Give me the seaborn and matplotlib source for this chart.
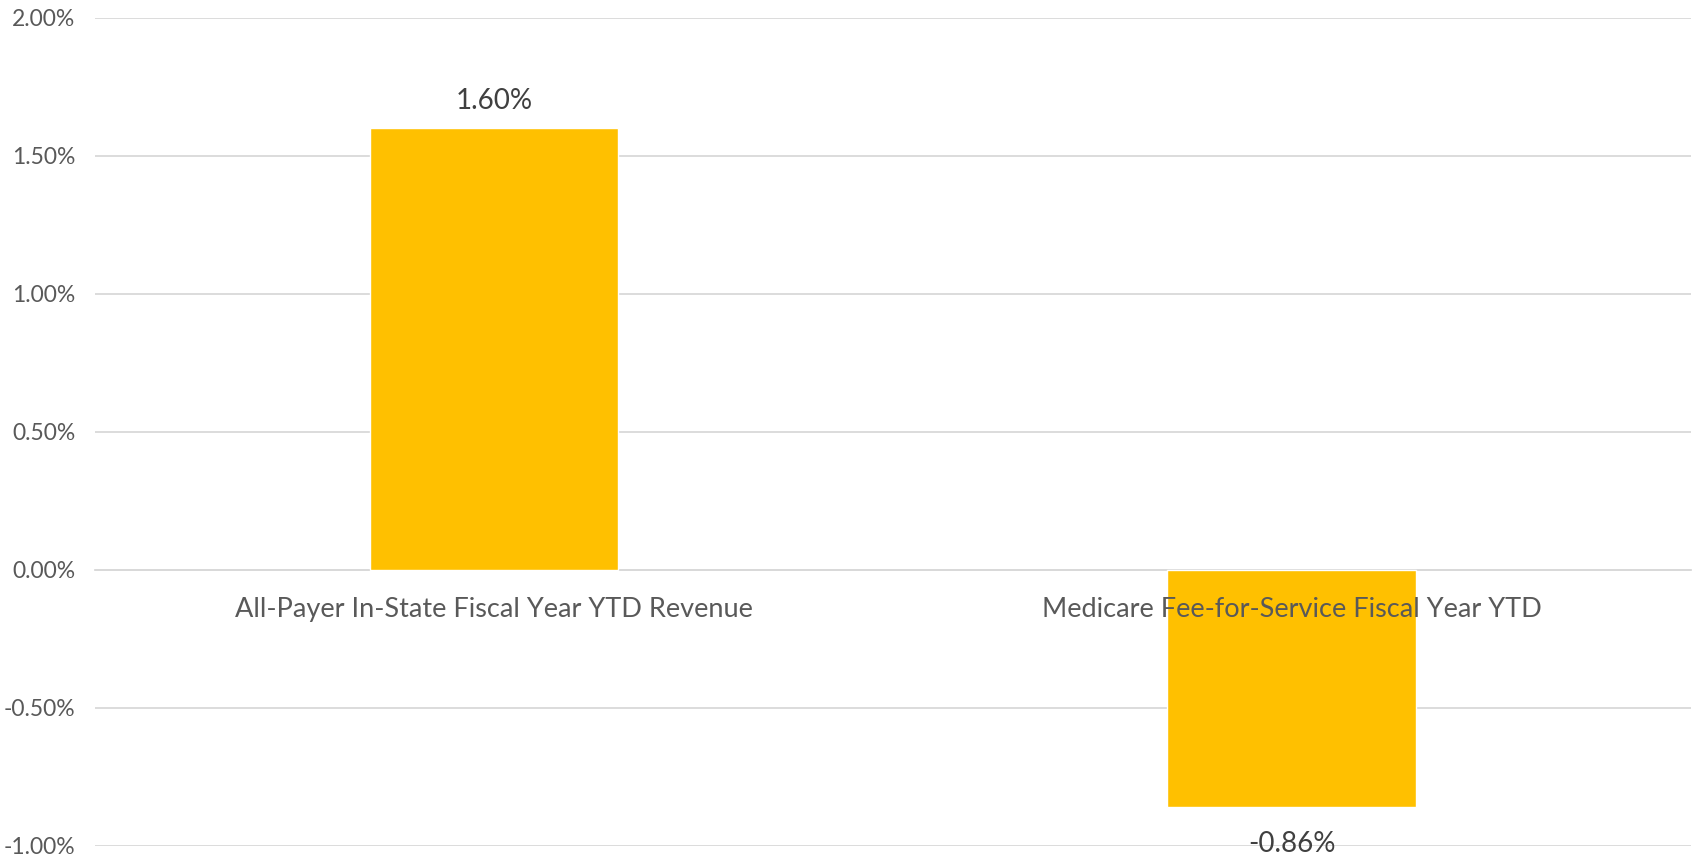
import matplotlib
matplotlib.use("Agg")
import matplotlib.pyplot as plt
import matplotlib.ticker as mticker
import seaborn as sns
import pandas as pd

categories = ["All-Payer In-State Fiscal Year YTD Revenue",
              "Medicare Fee-for-Service Fiscal Year YTD"]
values = [0.0160, -0.0086]
value_labels = ["1.60%", "-0.86%"]
y_ticks = [-0.01, -0.005, 0.0, 0.005, 0.01, 0.015, 0.02]

sns.set_theme(style="white")
plt.rcParams["font.family"] = ["Lato", "DejaVu Sans"]
plt.rcParams["axes.unicode_minus"] = False

df = pd.DataFrame({"category": categories, "value": values})

fig = plt.figure(figsize=(16.94, 8.57), dpi=100)
ax = fig.add_axes([0.0561, 0.0132, 0.9421, 0.9661])

sns.barplot(data=df, x="category", y="value", color="#FFC000",
            saturation=1, width=0.312, ax=ax, zorder=3)

ax.set_ylim(-0.01, 0.02)
ax.set_xlim(-0.5, 1.5)
ax.set_yticks(y_ticks)
ax.yaxis.set_major_formatter(mticker.PercentFormatter(1.0, decimals=2))
ax.grid(axis="y", color="#D9D9D9", linewidth=1.3)
ax.grid(axis="x", visible=False)

for side in ["top", "right", "left"]:
    ax.spines[side].set_visible(False)
ax.spines["bottom"].set_position(("data", 0))
ax.spines["bottom"].set_color("#D9D9D9")
ax.spines["bottom"].set_linewidth(1.3)
ax.spines["bottom"].set_zorder(1)

ax.tick_params(axis="y", length=0, pad=14, labelsize=16.5, labelcolor="#595959")
ax.tick_params(axis="x", length=0, pad=19.5, labelsize=19.5, labelcolor="#595959")
ax.set_xlabel("")
ax.set_ylabel("")

# gridlines behind the bars, category names drawn on top of them
ax.yaxis.set_zorder(1)
ax.xaxis.set_zorder(5)

bars = ax.containers[0]
pos_labels = [t if v >= 0 else "" for t, v in zip(value_labels, values)]
neg_labels = [t if v < 0 else "" for t, v in zip(value_labels, values)]
ax.bar_label(bars, labels=pos_labels, padding=10, fontsize=20, color="#404040")
ax.bar_label(bars, labels=neg_labels, padding=17, fontsize=20, color="#404040")

fig.savefig("out.png", dpi=100)
